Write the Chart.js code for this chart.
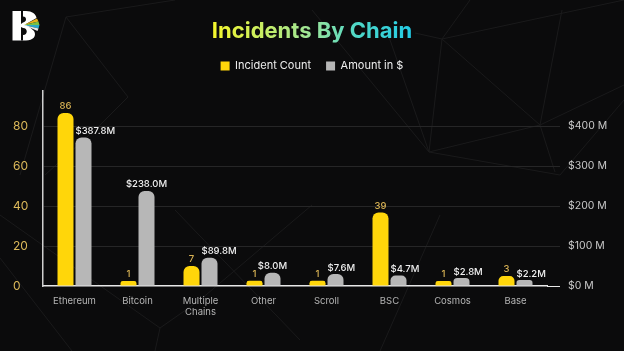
<!DOCTYPE html>
<html>
<head>
<meta charset="utf-8">
<script src="https://cdn.jsdelivr.net/npm/chart.js@4"></script>
<style>
html,body{margin:0;padding:0;background:#0b0b0c;overflow:hidden}
#wrap{position:relative;width:624px;height:351px}
#wrap svg{position:absolute;left:0;top:0}
#wrap canvas{position:absolute;left:0;top:0}
</style>
</head>
<body>
<div id="wrap">
<svg width="624" height="351" viewBox="0 0 624 351" fill="none" stroke="#1a1a1b" stroke-width="1">
<path d="M442 39L429 152M442 39L540 125M312 10L429 152M429 152L540 125L624 85M429 152L560 175M540 125L555 172M442 39L415 33M442 39L470 0M389 37L429 152M560 175L624 100M562 10L540 125M442 39L624 0"/>
<path d="M66 17L175 0M66 17L20 175M66 17L128 97L100 125L45 175M0 258L72 351M0 215L160 328L155 351M160 328L200 300L312 205M440 215L380 351M175 210L300 340"/>
</svg>
<canvas id="c" width="624" height="351"></canvas>
<svg width="624" height="351" viewBox="0 0 624 351" style="pointer-events:none">
<path d="M12.5 11H26C32 11 36 14 36.5 18L26 24L34 31C37 36 33 40.5 26 40.5H12.5Z" fill="#fff"/>
<path d="M21 11H23V16.5C27 16.5 27 22 23 22.5L21 24ZM21 27L23 28C28 28 28 35 23 35V40.5H21Z" fill="#0b0b0c"/>
<path d="M24 25L37 18.5L38.5 21.5Z" fill="#e8b21c"/>
<path d="M24 25L38.5 21.5L39.5 25Z" fill="#7cc043"/>
<path d="M24 25L39.5 25L38.5 28.5Z" fill="#2aa8c9"/>
<path d="M24 25L38.5 28.5L37.5 31Z" fill="#e8e8e8"/>
</svg>
</div>
<script>
const categories = ['Ethereum', 'Bitcoin', ['Multiple', 'Chains'], 'Other', 'Scroll', 'BSC', 'Cosmos', 'Base'];
const seriesNames = ['Incident Count', 'Amount in $'];
// Bar heights as drawn in the picture, read against each axis
const countBars = [86.7, 2.5, 10, 2.6, 2.6, 36.8, 2.5, 5];
const amountBars = [372, 238, 71, 33, 30, 26, 20, 15];
// Printed value labels
const countLabels = ['86', '1', '7', '1', '1', '39', '1', '3'];
const amountLabels = ['$387.8M', '$238.0M', '$89.8M', '$8.0M', '$7.6M', '$4.7M', '$2.8M', '$2.2M'];
const amountLabelAlign = ['left', 'center', 'left', 'center', 'left', 'left', 'left', 'left'];
const countTicks = [0, 20, 40, 60, 80];
const amountTicks = [0, 100, 200, 300, 400];
const titleText = 'Incidents By Chain';

const FONT = 'Inter, "Open Sans", sans-serif';
const canvas = document.getElementById('c');
const ctx = canvas.getContext('2d');
// The title plugin draws around its own centre, so the gradient runs around 0
const titleGrad = ctx.createLinearGradient(-101, 0, 101, 0);
titleGrad.addColorStop(0, '#f6f62a');
titleGrad.addColorStop(0.5, '#9be59a');
titleGrad.addColorStop(0.72, '#4fd8c8');
titleGrad.addColorStop(1, '#22cbe6');

const legendGap = {
  id: 'legendGap',
  beforeInit(chart) {
    const fit = chart.legend.fit;
    chart.legend.fit = function () { fit.call(this); this.height += 9; };
  }
};

const valueLabels = {
  id: 'valueLabels',
  afterDatasetsDraw(chart) {
    const c = chart.ctx;
    c.save();
    c.font = '500 9.5px ' + FONT;
    c.textBaseline = 'alphabetic';
    chart.getDatasetMeta(0).data.forEach((bar, i) => {
      c.fillStyle = '#d8b254';
      c.textAlign = 'center';
      c.fillText(countLabels[i], bar.x, bar.y - 4);
    });
    chart.getDatasetMeta(1).data.forEach((bar, i) => {
      c.fillStyle = '#f0f0f0';
      c.textAlign = amountLabelAlign[i];
      const x = amountLabelAlign[i] === 'left' ? bar.x - bar.width / 2 : bar.x;
      c.fillText(amountLabels[i], x, bar.y - 3.5);
    });
    c.restore();
  }
};

const barRadius = { topLeft: 6, topRight: 6, bottomLeft: 0, bottomRight: 0 };

new Chart(ctx, {
  type: 'bar',
  data: {
    labels: categories,
    datasets: [
      { label: seriesNames[0], data: countBars, yAxisID: 'y', backgroundColor: '#ffd60a', borderRadius: barRadius, borderSkipped: false },
      { label: seriesNames[1], data: amountBars, yAxisID: 'y1', backgroundColor: '#b7b7b7', borderRadius: barRadius, borderSkipped: false }
    ]
  },
  options: {
    responsive: false,
    animation: false,
    categoryPercentage: 0.5714,
    barPercentage: 0.889,
    layout: { padding: { left: 13, top: 0, right: 13, bottom: 0 } },
    plugins: {
      title: {
        display: true, text: titleText, color: titleGrad,
        font: { family: FONT, size: 22, weight: '700' },
        padding: { top: 18, bottom: 1 }
      },
      legend: {
        display: true, position: 'top', align: 'center',
        labels: { color: '#eeeeee', boxWidth: 9, boxHeight: 9, padding: 15, font: { family: FONT, size: 11 } }
      },
      tooltip: { enabled: false }
    },
    scales: {
      x: {
        grid: { display: false, drawTicks: false },
        border: { display: true, color: '#e8e8e8', width: 1.5 },
        ticks: { color: '#b4b4b4', font: { family: FONT, size: 9.5 }, padding: 9, maxRotation: 0, autoSkip: false },
        afterFit(s) { s.height = 65; }
      },
      y: {
        position: 'left', min: 0, max: 98,
        afterBuildTicks(s) { s.ticks = countTicks.map(v => ({ value: v })); },
        afterFit(s) { s.width = 30; },
        border: { display: true, color: '#cfcfcf', width: 1.5 },
        grid: { color: ctx => ctx.tick && ctx.tick.value === 0 ? 'rgba(0,0,0,0)' : '#262627', drawTicks: false, lineWidth: 1 },
        ticks: { color: '#dcb95a', crossAlign: 'far', font: { family: FONT, size: 12 }, callback: v => String(v) }
      },
      y1: {
        position: 'right', min: 0, max: 490,
        afterBuildTicks(s) { s.ticks = amountTicks.map(v => ({ value: v })); },
        afterFit(s) { s.width = 64; },
        border: { display: false },
        grid: {
          drawOnChartArea: false, drawTicks: true, tickLength: 13,
          tickColor: ctx => ctx.tick && ctx.tick.value === 0 ? '#e8e8e8' : '#262627'
        },
        ticks: { color: '#c8c8c8', padding: 8, font: { family: FONT, size: 10.5 }, callback: v => '$' + v + ' M' }
      }
    }
  },
  plugins: [valueLabels, legendGap]
});
</script>
</body>
</html>
